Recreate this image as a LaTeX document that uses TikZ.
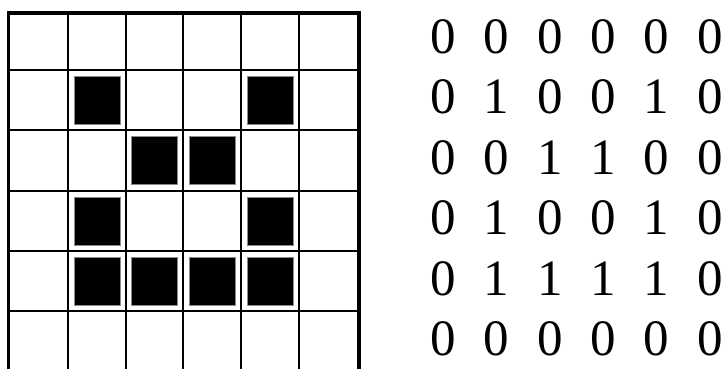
\documentclass[tikz,border=0pt]{standalone}
\usepackage{fontspec}
\setmainfont{Liberation Serif}
\usepackage{xcolor}
\definecolor{ink}    {HTML}{000000}
\definecolor{pixgray}{HTML}{8A8A8A}
\tikzset{
  gridline/.style ={draw=ink, line width=2pt},
  frameline/.style={draw=ink, line width=3.2pt},
  pixel/.style    ={fill=ink, draw=pixgray, line width=1pt},
  bit/.style      ={font=\fontsize{51}{60}\selectfont, inner sep=0pt, text=ink},
}

\begin{document}
\begin{tikzpicture}[x=1pt,y=-1pt]
  \useasboundingbox (0,0) rectangle (724,369);

  % grid
  \foreach \x in {68,125.7,183.3,241,299}
    \draw[gridline] (\x,13) -- (\x,369);
  \foreach \y in {70.5,130.5,191,251,311}
    \draw[gridline] (8.5,\y) -- (359,\y);
  \draw[frameline] (8.5,369) -- (8.5,13) -- (359,13) -- (359,369);

  % filled cells
  \foreach \l/\t in {68/70.5, 241/70.5, 125.7/130.5, 183.3/130.5, 68/191,
                     241/191, 68/251, 125.7/251, 183.3/251, 241/251}
    \draw[pixel] (\l+6,\t+6) rectangle ++(46,48);

  % matrix of bits
  \foreach \row [count=\r from 0] in {{0,0,0,0,0,0},{0,1,0,0,1,0},{0,0,1,1,0,0},
                                      {0,1,0,0,1,0},{0,1,1,1,1,0},{0,0,0,0,0,0}}
    \foreach \b [count=\c from 0] in \row
      \node[bit] (b\r\c) at (443.3+53.3*\c, 36.7+60.4*\r) {\b};
\end{tikzpicture}
\end{document}
